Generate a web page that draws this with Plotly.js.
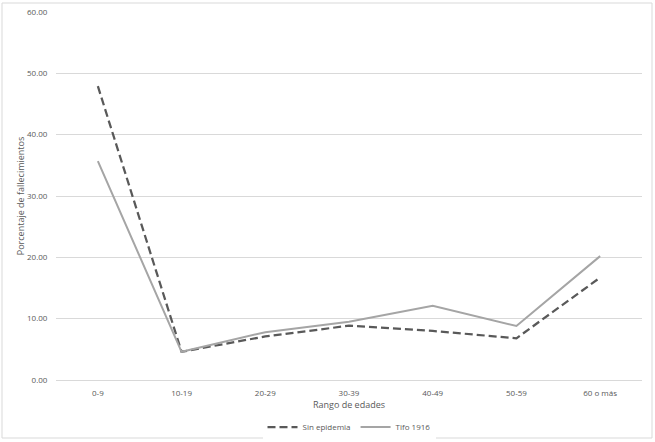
<!DOCTYPE html>
<html>
<head>
<meta charset="utf-8">
<script src="https://cdn.plot.ly/plotly-3.0.1.min.js"></script>
<style>html,body{margin:0;padding:0;background:#fff;}#chart{width:655px;height:442px;}</style>
</head>
<body>
<div id="chart"></div>
<script>
var categories = ["0-9", "10-19", "20-29", "30-39", "40-49", "50-59", "60 o más"];
var sinEpidemia = [47.9, 4.6, 7.1, 8.85, 8.0, 6.8, 16.7];
var tifo1916 = [35.7, 4.6, 7.8, 9.5, 12.1, 8.8, 20.2];
var seriesNames = ["Sin epidemia", "Tifo 1916"];
var yTicks = [0, 10, 20, 30, 40, 50, 60];
var yTickLabels = ["0.00", "10.00", "20.00", "30.00", "40.00", "50.00", "60.00"];

var font = "Open Sans, Noto Sans, sans-serif";
var traces = [
  {x: categories, y: sinEpidemia, name: seriesNames[0], type: "scatter", mode: "lines",
   line: {color: "#595959", width: 2.25, dash: "8px,4px"}},
  {x: categories, y: tifo1916, name: seriesNames[1], type: "scatter", mode: "lines",
   line: {color: "#a5a5a5", width: 2}}
];
var layout = {
  width: 655, height: 442,
  margin: {l: 56, r: 13, t: 12, b: 62, autoexpand: false},
  paper_bgcolor: "#ffffff", plot_bgcolor: "#ffffff",
  font: {family: font, size: 8, color: "#595959"},
  showlegend: true,
  legend: {orientation: "h", x: 0.5, xanchor: "center", y: -0.128, yanchor: "middle",
           font: {family: font, size: 8, color: "#595959"}, itemwidth: 30, tracegroupgap: 0},
  xaxis: {
    type: "category", range: [-0.5, 6.5], showgrid: false, zeroline: false, showline: true,
    linecolor: "#d9d9d9", linewidth: 1, ticks: "outside", ticklen: 5, tickcolor: "rgba(0,0,0,0)",
    tickfont: {size: 8, color: "#595959"},
    title: {text: "Rango de edades", font: {size: 9, color: "#595959"}, standoff: 3},
    automargin: false
  },
  yaxis: {
    range: [0, 60], tickvals: yTicks, ticktext: yTickLabels, showgrid: true,
    gridcolor: "#d9d9d9", gridwidth: 1, zeroline: false, showline: false,
    ticks: "outside", ticklen: 6, tickcolor: "rgba(0,0,0,0)",
    tickfont: {size: 8, color: "#595959"},
    title: {text: "Porcentaje de fallecimientos", font: {size: 9, color: "#595959"}, standoff: 0},
    automargin: false
  },
  shapes: [{type: "rect", xref: "paper", yref: "paper",
            x0: (2 - 56) / 586, x1: (652 - 56) / 586, y0: (380 - 438) / 368, y1: (380 - 3) / 368,
            line: {color: "#d9d9d9", width: 1}, fillcolor: "rgba(0,0,0,0)", layer: "below"}]
};
Plotly.newPlot("chart", traces, layout, {displayModeBar: false, staticPlot: true});
</script>
</body>
</html>
